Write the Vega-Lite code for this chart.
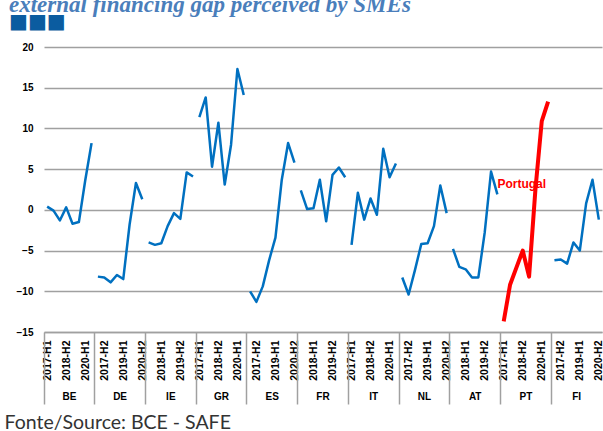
{
  "$schema": "https://vega.github.io/schema/vega-lite/v6.json",
  "width": 558,
  "height": 285,
  "autosize": "none",
  "padding": {"left": 44, "top": 47, "right": 1, "bottom": 99},
  "background": "white",
  "title": {
    "text": "external financing gap perceived by SMEs",
    "subtitle": "■■■",
    "anchor": "start",
    "frame": "group",
    "dx": -35,
    "offset": 10,
    "font": "Liberation Serif",
    "fontSize": 23,
    "fontStyle": "italic",
    "fontWeight": "bold",
    "color": "#4A7EBB",
    "subtitleFont": "DejaVu Sans",
    "subtitleFontSize": 20,
    "subtitleColor": "#0B5CA0",
    "subtitlePadding": -5
  },
  "config": {"view": {"stroke": null}},
  "datasets": {
    "d": [
      {"k": "BE|2017-H1", "c": "BE", "v": 0.4}, {"k": "BE|2017-H2", "c": "BE", "v": -0.1}, {"k": "BE|2018-H1", "c": "BE", "v": -1.3}, {"k": "BE|2018-H2", "c": "BE", "v": 0.3},
      {"k": "BE|2019-H1", "c": "BE", "v": -1.7}, {"k": "BE|2019-H2", "c": "BE", "v": -1.5}, {"k": "BE|2020-H1", "c": "BE", "v": 3.6}, {"k": "BE|2020-H2", "c": "BE", "v": 8.2},
      {"k": "DE|2017-H1", "c": "DE", "v": -8.2}, {"k": "DE|2017-H2", "c": "DE", "v": -8.3}, {"k": "DE|2018-H1", "c": "DE", "v": -8.9}, {"k": "DE|2018-H2", "c": "DE", "v": -8.0},
      {"k": "DE|2019-H1", "c": "DE", "v": -8.5}, {"k": "DE|2019-H2", "c": "DE", "v": -1.8}, {"k": "DE|2020-H1", "c": "DE", "v": 3.3}, {"k": "DE|2020-H2", "c": "DE", "v": 1.3},
      {"k": "IE|2017-H1", "c": "IE", "v": -4.0}, {"k": "IE|2017-H2", "c": "IE", "v": -4.3}, {"k": "IE|2018-H1", "c": "IE", "v": -4.1}, {"k": "IE|2018-H2", "c": "IE", "v": -2.0},
      {"k": "IE|2019-H1", "c": "IE", "v": -0.4}, {"k": "IE|2019-H2", "c": "IE", "v": -1.1}, {"k": "IE|2020-H1", "c": "IE", "v": 4.6}, {"k": "IE|2020-H2", "c": "IE", "v": 4.1},
      {"k": "GR|2017-H1", "c": "GR", "v": 11.4}, {"k": "GR|2017-H2", "c": "GR", "v": 13.8}, {"k": "GR|2018-H1", "c": "GR", "v": 5.3}, {"k": "GR|2018-H2", "c": "GR", "v": 10.7},
      {"k": "GR|2019-H1", "c": "GR", "v": 3.1}, {"k": "GR|2019-H2", "c": "GR", "v": 8.0}, {"k": "GR|2020-H1", "c": "GR", "v": 17.3}, {"k": "GR|2020-H2", "c": "GR", "v": 14.1},
      {"k": "ES|2017-H1", "c": "ES", "v": -10.0}, {"k": "ES|2017-H2", "c": "ES", "v": -11.3}, {"k": "ES|2018-H1", "c": "ES", "v": -9.4}, {"k": "ES|2018-H2", "c": "ES", "v": -6.2},
      {"k": "ES|2019-H1", "c": "ES", "v": -3.4}, {"k": "ES|2019-H2", "c": "ES", "v": 3.7}, {"k": "ES|2020-H1", "c": "ES", "v": 8.2}, {"k": "ES|2020-H2", "c": "ES", "v": 5.8},
      {"k": "FR|2017-H1", "c": "FR", "v": 2.4}, {"k": "FR|2017-H2", "c": "FR", "v": 0.1}, {"k": "FR|2018-H1", "c": "FR", "v": 0.2}, {"k": "FR|2018-H2", "c": "FR", "v": 3.7},
      {"k": "FR|2019-H1", "c": "FR", "v": -1.4}, {"k": "FR|2019-H2", "c": "FR", "v": 4.3}, {"k": "FR|2020-H1", "c": "FR", "v": 5.2}, {"k": "FR|2020-H2", "c": "FR", "v": 4.0},
      {"k": "IT|2017-H1", "c": "IT", "v": -4.3}, {"k": "IT|2017-H2", "c": "IT", "v": 2.1}, {"k": "IT|2018-H1", "c": "IT", "v": -1.2}, {"k": "IT|2018-H2", "c": "IT", "v": 1.4},
      {"k": "IT|2019-H1", "c": "IT", "v": -0.6}, {"k": "IT|2019-H2", "c": "IT", "v": 7.5}, {"k": "IT|2020-H1", "c": "IT", "v": 4.0}, {"k": "IT|2020-H2", "c": "IT", "v": 5.7},
      {"k": "NL|2017-H1", "c": "NL", "v": -8.3}, {"k": "NL|2017-H2", "c": "NL", "v": -10.4}, {"k": "NL|2018-H1", "c": "NL", "v": -7.4}, {"k": "NL|2018-H2", "c": "NL", "v": -4.2},
      {"k": "NL|2019-H1", "c": "NL", "v": -4.1}, {"k": "NL|2019-H2", "c": "NL", "v": -2.0}, {"k": "NL|2020-H1", "c": "NL", "v": 3.0}, {"k": "NL|2020-H2", "c": "NL", "v": -0.4},
      {"k": "AT|2017-H1", "c": "AT", "v": -4.8}, {"k": "AT|2017-H2", "c": "AT", "v": -7.0}, {"k": "AT|2018-H1", "c": "AT", "v": -7.3}, {"k": "AT|2018-H2", "c": "AT", "v": -8.3},
      {"k": "AT|2019-H1", "c": "AT", "v": -8.3}, {"k": "AT|2019-H2", "c": "AT", "v": -2.8}, {"k": "AT|2020-H1", "c": "AT", "v": 4.7}, {"k": "AT|2020-H2", "c": "AT", "v": 1.9},
      {"k": "PT|2017-H1", "c": "PT", "v": -13.7}, {"k": "PT|2017-H2", "c": "PT", "v": -9.2}, {"k": "PT|2018-H1", "c": "PT", "v": -7.1}, {"k": "PT|2018-H2", "c": "PT", "v": -5.0},
      {"k": "PT|2019-H1", "c": "PT", "v": -8.2}, {"k": "PT|2019-H2", "c": "PT", "v": 2.5}, {"k": "PT|2020-H1", "c": "PT", "v": 10.9}, {"k": "PT|2020-H2", "c": "PT", "v": 13.3},
      {"k": "FI|2017-H1", "c": "FI", "v": -6.2}, {"k": "FI|2017-H2", "c": "FI", "v": -6.1}, {"k": "FI|2018-H1", "c": "FI", "v": -6.6}, {"k": "FI|2018-H2", "c": "FI", "v": -4.0},
      {"k": "FI|2019-H1", "c": "FI", "v": -5.0}, {"k": "FI|2019-H2", "c": "FI", "v": 0.8}, {"k": "FI|2020-H1", "c": "FI", "v": 3.7}, {"k": "FI|2020-H2", "c": "FI", "v": -1.2}
    ]
  },
  "layer": [
    {
      "layer": [
        {
          "data": {"name": "d"},
          "mark": {"type": "line", "strokeJoin": "round"},
          "encoding": {
            "x": {
              "field": "k", "type": "ordinal", "sort": null,
              "scale": {"type": "point", "padding": 0.5},
              "axis": {
                "orient": "bottom", "title": null, "ticks": false, "grid": false,
                "domain": true, "domainColor": "#A0A0A0", "domainWidth": 1.5,
                "labelAngle": -90, "labelPadding": 8, "labelOverlap": false, "labelBound": false, "labelFlush": false,
                "labelExpr": "round(datum.index * 87) % 3 === 0 ? split(datum.value, '|')[1] : ''",
                "labelFont": "Liberation Sans", "labelFontWeight": "bold", "labelFontSize": 10.5, "labelColor": "black"
              }
            },
            "y": {
              "field": "v", "type": "quantitative",
              "scale": {"domain": [-15, 20], "nice": false, "zero": false},
              "axis": {
                "title": null, "values": [-15, -10, -5, 0, 5, 10, 15, 20],
                "grid": true, "gridColor": "#A0A0A0", "gridWidth": 1.5,
                "domain": false, "ticks": false, "labelPadding": 11,
                "labelFont": "Liberation Sans", "labelFontWeight": "bold", "labelFontSize": 10, "labelColor": "black"
              }
            },
            "detail": {"field": "c", "type": "nominal"},
            "color": {"condition": {"test": "datum.c === 'PT'", "value": "#FF0000"}, "value": "#0070C0"},
            "strokeWidth": {"condition": {"test": "datum.c === 'PT'", "value": 4}, "value": 2.5}
          }
        },
        {
          "data": {"values": [{"k": "AT|2020-H2", "v": 3.2, "label": "Portugal"}]},
          "mark": {"type": "text", "align": "left", "baseline": "middle", "font": "Liberation Sans", "fontWeight": "bold", "fontSize": 12, "color": "#FF0000"},
          "encoding": {
            "x": {"field": "k", "type": "ordinal", "sort": null},
            "y": {"field": "v", "type": "quantitative"},
            "text": {"field": "label"}
          }
        }
      ]
    },
    {
      "data": {"name": "d"},
      "mark": {"type": "point", "opacity": 0},
      "encoding": {
        "x": {
          "field": "c", "type": "nominal", "sort": null,
          "scale": {"type": "band", "paddingInner": 0, "paddingOuter": 0},
          "axis": {
            "orient": "bottom", "domain": false, "grid": false,
            "ticks": true, "bandPosition": 0, "tickSize": 72, "tickColor": "#A0A0A0", "tickWidth": 1.5,
            "labelAngle": 0, "labelPadding": -8, "labelBaseline": "middle",
            "labelFont": "Liberation Sans", "labelFontWeight": "bold", "labelFontSize": 10, "labelColor": "black",
            "title": "Fonte/Source: BCE - SAFE",
            "titleFont": "Lato", "titleFontSize": 19.5, "titleFontWeight": "normal", "titleColor": "#333333",
            "titleAnchor": "start", "titleAlign": "left", "titleBaseline": "alphabetic",
            "titleX": -40, "titleY": 96
          }
        }
      }
    }
  ],
  "resolve": {"scale": {"x": "independent"}, "axis": {"x": "independent"}}
}
